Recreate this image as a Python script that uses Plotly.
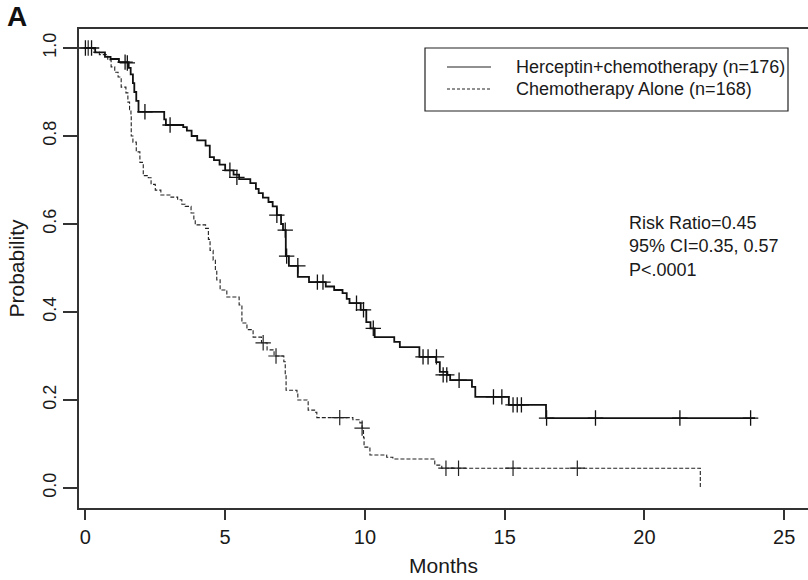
import plotly.graph_objects as go

# ---------------- data ----------------
# Herceptin + chemotherapy: step times (months) and survival after each step
herc_t = [0, 0.35, 0.7, 0.9, 1.2, 1.55, 1.62, 1.7, 1.75, 1.82, 1.9, 2.82, 2.88, 3.5, 3.63,
          3.8, 4.0, 4.3, 4.45, 4.6, 4.8, 5.0, 5.3, 5.5, 5.9, 6.1, 6.2, 6.35, 6.55, 6.7,
          6.85, 7.0, 7.07, 7.17, 7.28, 7.6, 8.0, 8.6, 8.9, 9.2, 9.35, 9.45, 9.85, 10.05,
          10.2, 10.35, 11.05, 11.25, 11.95, 12.55, 12.68, 12.95, 13.05, 13.83, 13.95,
          15.15, 16.48, 23.96]
herc_s = [1.0, 0.99, 0.98, 0.975, 0.968, 0.955, 0.94, 0.92, 0.9, 0.88, 0.855, 0.838, 0.825,
          0.82, 0.812, 0.80, 0.79, 0.778, 0.752, 0.745, 0.735, 0.722, 0.712, 0.702, 0.693,
          0.68, 0.67, 0.66, 0.65, 0.64, 0.62, 0.60, 0.586, 0.527, 0.505, 0.48, 0.468, 0.458,
          0.45, 0.443, 0.43, 0.42, 0.405, 0.377, 0.363, 0.343, 0.332, 0.32, 0.298, 0.286,
          0.264, 0.257, 0.245, 0.23, 0.207, 0.189, 0.159, 0.159]
herc_cens_t = [0.0, 0.22, 1.42, 1.5, 2.13, 3.03, 5.17, 5.42, 6.85, 7.15, 7.2, 7.6, 8.3, 8.5,
               9.7, 9.95, 10.3, 12.08, 12.26, 12.56, 12.8, 12.93, 13.37, 14.6, 14.9, 15.3,
               15.45, 15.6, 16.5, 18.25, 21.27, 23.8]
herc_cens_s = [1.0, 1.0, 0.968, 0.966, 0.855, 0.825, 0.722, 0.706, 0.62, 0.586, 0.527, 0.505,
               0.468, 0.468, 0.42, 0.405, 0.363, 0.298, 0.298, 0.298, 0.257, 0.257, 0.245,
               0.207, 0.207, 0.189, 0.189, 0.189, 0.159, 0.159, 0.159, 0.159]

# Chemotherapy alone
chemo_t = [0, 0.3, 0.5, 0.8, 0.92, 1.05, 1.17, 1.28, 1.45, 1.52, 1.58, 1.63, 1.64, 1.7, 1.82,
           1.95, 2.07, 2.25, 2.35, 2.5, 2.7, 3.06, 3.3, 3.45, 3.57, 3.78, 3.88, 3.93, 4.3,
           4.4, 4.46, 4.57, 4.65, 4.7, 4.82, 5.06, 5.5, 5.6, 5.78, 6.0, 6.3, 6.5, 6.75, 7.1,
           7.15, 7.18, 7.57, 7.6, 7.93, 7.97, 8.2, 8.28, 9.57, 9.82, 9.9, 9.95, 9.97, 10.18,
           10.78, 11.0, 12.5, 12.75, 22.0]
chemo_s = [1.0, 0.99, 0.985, 0.973, 0.957, 0.945, 0.934, 0.911, 0.898, 0.877, 0.86, 0.848,
           0.80, 0.786, 0.764, 0.74, 0.71, 0.705, 0.69, 0.677, 0.666, 0.661, 0.655, 0.645,
           0.64, 0.625, 0.61, 0.598, 0.59, 0.565, 0.54, 0.518, 0.495, 0.473, 0.45, 0.434,
           0.416, 0.375, 0.36, 0.343, 0.33, 0.314, 0.30, 0.287, 0.255, 0.222, 0.215, 0.20,
           0.196, 0.177, 0.172, 0.16, 0.155, 0.148, 0.136, 0.115, 0.093, 0.075, 0.07, 0.066,
           0.052, 0.045, 0.0]
chemo_cens_t = [0.1, 6.36, 6.82, 9.1, 9.9, 12.9, 13.35, 15.3, 17.6]
chemo_cens_s = [1.0, 0.33, 0.30, 0.16, 0.136, 0.045, 0.045, 0.045, 0.045]

x_ticks = [0, 5, 10, 15, 20, 25]
y_ticks = [0.0, 0.2, 0.4, 0.6, 0.8, 1.0]
legend_labels = ["Herceptin+chemotherapy (n=176)", "Chemotherapy Alone (n=168)"]
stats_text = ["Risk Ratio=0.45", "95% CI=0.35, 0.57", "P<.0001"]

# ---------------- layout geometry ----------------
W, H = 808, 580
L, R, T, B = 79, 808, 29, 508
FONT = "Liberation Sans, Arial, Helvetica, sans-serif"
TXT = "#1a1a1a"


def px(x):
    return (x - L) / (R - L)


def py(y):
    return (B - y) / (B - T)


fig = go.Figure()

fig.add_trace(go.Scatter(x=chemo_t, y=chemo_s, mode="lines", line_shape="hv",
                         line=dict(color="#222", width=1.1, dash="4px,2px"),
                         showlegend=False, hoverinfo="skip"))
fig.add_trace(go.Scatter(x=chemo_cens_t, y=chemo_cens_s, mode="markers",
                         marker=dict(symbol="cross-thin", size=11, color="#222",
                                     line=dict(color="#222", width=1.2)),
                         showlegend=False, hoverinfo="skip"))
fig.add_trace(go.Scatter(x=herc_t, y=herc_s, mode="lines", line_shape="hv",
                         line=dict(color="#111", width=1.8),
                         showlegend=False, hoverinfo="skip"))
fig.add_trace(go.Scatter(x=herc_cens_t, y=herc_cens_s, mode="markers",
                         marker=dict(symbol="cross-thin", size=11, color="#111",
                                     line=dict(color="#111", width=1.3)),
                         showlegend=False, hoverinfo="skip"))

# manual legend box
shapes = [
    dict(type="rect", xref="paper", yref="paper", x0=px(425), x1=px(788), y0=py(111), y1=py(48),
         line=dict(color="#222", width=1.2), fillcolor="rgba(0,0,0,0)", layer="above"),
    dict(type="line", xref="paper", yref="paper", x0=px(447), x1=px(491), y0=py(67), y1=py(67),
         line=dict(color="#222", width=1.2)),
    dict(type="line", xref="paper", yref="paper", x0=px(447), x1=px(491), y0=py(89), y1=py(89),
         line=dict(color="#222", width=1.1, dash="3px,2px")),
]
annotations = [
    dict(xref="paper", yref="paper", x=px(514), y=py(67), xanchor="left", yanchor="middle",
         text=legend_labels[0], showarrow=False, font=dict(size=18, color=TXT, family=FONT)),
    dict(xref="paper", yref="paper", x=px(514), y=py(89), xanchor="left", yanchor="middle",
         text=legend_labels[1], showarrow=False, font=dict(size=18, color=TXT, family=FONT)),
    dict(xref="paper", yref="paper", x=px(627), y=py(246), xanchor="left", yanchor="middle",
         align="left", text="<br>".join(stats_text), showarrow=False,
         font=dict(size=18, color=TXT, family=FONT)),
    dict(xref="paper", yref="paper", x=px(5), y=py(17), xanchor="left", yanchor="middle",
         text="<b>A</b>", showarrow=False, font=dict(size=28, color="#111", family=FONT)),
]

x0 = -6.4 / 27.95
y0 = -20 / 440.0
fig.update_layout(
    width=W, height=H,
    margin=dict(l=L, r=W - R, t=T, b=H - B, pad=0),
    paper_bgcolor="white", plot_bgcolor="white",
    font=dict(family=FONT, color=TXT),
    shapes=shapes, annotations=annotations,
    showlegend=False,
)
fig.update_xaxes(range=[x0, x0 + (R - L) / 27.95], tickvals=x_ticks,
                 ticktext=[str(v) for v in x_ticks],
                 showgrid=False, zeroline=False, showline=True, mirror=True,
                 linecolor="#333", linewidth=1.5,
                 ticks="outside", ticklen=10, tickwidth=1.5, tickcolor="#333",
                 tickfont=dict(size=20, color=TXT),
                 title=dict(text="Months", font=dict(size=21, color=TXT), standoff=12))
fig.update_yaxes(range=[y0, y0 + (B - T) / 440.0], tickvals=y_ticks,
                 ticktext=["%.1f" % v for v in y_ticks],
                 showgrid=False, zeroline=False, showline=True, mirror=False,
                 linecolor="#333", linewidth=1.5,
                 ticks="outside", ticklen=14, tickwidth=1.5, tickcolor="#333",
                 tickangle=-90, tickfont=dict(size=18, color=TXT),
                 title=dict(text="Probability", font=dict(size=21, color=TXT), standoff=10))

fig.write_html("out.html")
